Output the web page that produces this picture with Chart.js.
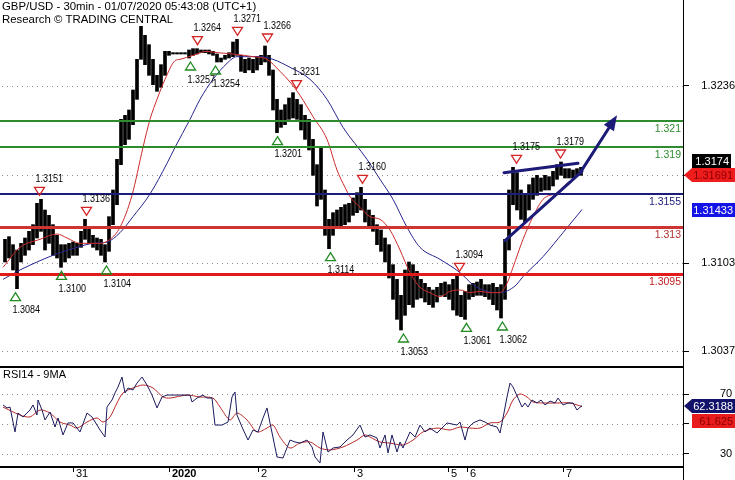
<!DOCTYPE html>
<html><head><meta charset="utf-8">
<script src="https://cdn.jsdelivr.net/npm/chart.js@4.4.0/dist/chart.umd.min.js"></script>
<style>
html,body{margin:0;padding:0;background:#fff;overflow:hidden;}
#wrap{position:relative;width:735px;height:480px;background:#fff;}
#c1{position:absolute;left:0;top:0;}
#c2{position:absolute;left:0;top:366px;}
</style></head><body>
<div id="wrap"><canvas id="c1" width="735" height="366"></canvas><canvas id="c2" width="735" height="114"></canvas></div>
<script>
// ---------------- DATA ----------------
// hourly price bars (index = bar number), high / low
const barHigh = [
1.3121,1.3123,1.3117,1.3113,1.3118,1.3122,1.3127,1.3132,1.3148,1.3151,
1.3143,1.3139,1.3132,1.3124,1.3117,1.3117,1.3118,1.3119,1.3118,1.3127,
1.3136,1.3130,1.3124,1.3122,1.3121,1.3117,1.3138,1.3158,1.3181,1.3211,
1.3214,1.3218,1.3233,1.3256,1.3289,1.3274,1.3267,1.3256,1.3244,1.3252,
1.3262,1.3262,1.3261,1.3261,1.3261,1.3261,1.3263,1.3264,1.3264,1.3263,
1.3263,1.3263,1.3262,1.3260,1.3257,1.3259,1.3261,1.3269,1.3271,1.3259,
1.3256,1.3257,1.3256,1.3258,1.3259,1.3266,1.3259,1.3248,1.3226,1.3218,
1.3222,1.3227,1.3231,1.3226,1.3222,1.3214,1.3211,1.3196,1.3177,1.3190,
1.3158,1.3136,1.3141,1.3143,1.3145,1.3147,1.3148,1.3152,1.3156,1.3160,
1.3151,1.3143,1.3139,1.3132,1.3128,1.3122,1.3117,1.3102,1.3091,1.3079,
1.3098,1.3104,1.3102,1.3097,1.3091,1.3088,1.3085,1.3083,1.3085,1.3088,
1.3089,1.3087,1.3091,1.3094,1.3079,1.3082,1.3087,1.3088,1.3089,1.3091,
1.3087,1.3087,1.3088,1.3085,1.3087,1.3121,1.3158,1.3175,1.3171,1.3158,
1.3154,1.3162,1.3167,1.3169,1.3167,1.3169,1.3168,1.3172,1.3177,1.3179,
1.3174,1.3174,1.3173,1.3174,1.3175];
const barLow = [
1.3104,1.3107,1.3098,1.3084,1.3104,1.3109,1.3113,1.3117,1.3122,1.3127,
1.3113,1.3118,1.3109,1.3107,1.3100,1.3104,1.3107,1.3109,1.3109,1.3115,
1.3121,1.3118,1.3115,1.3113,1.3109,1.3104,1.3112,1.3132,1.3147,1.3177,
1.3192,1.3196,1.3207,1.3226,1.3256,1.3252,1.3244,1.3237,1.3232,1.3235,
1.3244,1.3259,1.3260,1.3260,1.3260,1.3260,1.3257,1.3259,1.3260,1.3261,
1.3261,1.3260,1.3259,1.3254,1.3254,1.3256,1.3257,1.3258,1.3259,1.3247,
1.3246,1.3248,1.3246,1.3248,1.3252,1.3254,1.3244,1.3218,1.3201,1.3205,
1.3207,1.3211,1.3212,1.3211,1.3203,1.3196,1.3188,1.3169,1.3146,1.3151,
1.3124,1.3114,1.3124,1.3130,1.3130,1.3132,1.3134,1.3139,1.3141,1.3143,
1.3134,1.3130,1.3127,1.3117,1.3112,1.3104,1.3092,1.3076,1.3061,1.3053,
1.3064,1.3072,1.3070,1.3076,1.3077,1.3074,1.3072,1.3070,1.3074,1.3079,
1.3078,1.3076,1.3068,1.3064,1.3063,1.3061,1.3076,1.3078,1.3079,1.3079,
1.3078,1.3076,1.3072,1.3068,1.3062,1.3076,1.3113,1.3147,1.3143,1.3136,
1.3134,1.3143,1.3151,1.3154,1.3157,1.3158,1.3158,1.3161,1.3166,1.3169,
1.3167,1.3167,1.3167,1.3169,1.3169];
const lastPrice = 1.3174;

// moving averages (bar index, price)
const redMAIdx = [-0.5,3.75,8.75,13,15.5,18.75,23.75,26.25,28.75,31.75,
 34.5,36.25,38,40,42.5,43.75,47,50.5,53,57,
 62,65.5,68.75,71.25,73.75,77,80.5,83,85,86.25,
 88.75,91.25,93.75,96.25,98.75,101.25,103.75,106.25,108.75,111.25,
 113.75,116.25,118.75,121.25,123.75,125.5,127,129.5,132,134.5,
 138,140.5,143.5];
const redMAVal = [1.3100,1.3115,1.3121,1.3125,1.3122,1.3118,1.3118,1.3121,1.3130,1.3154,
 1.3190,1.3211,1.3226,1.3241,1.3255,1.3256,1.3259,1.3262,1.3261,1.3260,
 1.3258,1.3256,1.3247,1.3239,1.3229,1.3213,1.3196,1.3173,1.3160,1.3153,
 1.3145,1.3138,1.3136,1.3128,1.3113,1.3096,1.3085,1.3081,1.3078,1.3082,
 1.3083,1.3081,1.3082,1.3081,1.3081,1.3088,1.3100,1.3121,1.3138,1.3151,
 1.3156,1.3163,1.31691];
const blueMAIdx = [-0.5,3.75,8.75,13.75,18,22,25.5,28.75,32,36.25,
 40.5,42.5,46.25,48.75,52,55.5,58,63.75,67,71.25,
 76.25,80.5,84.5,90.5,93.75,97,100.5,103.75,108.75,113.75,
 117,120.5,123.75,127.5,129.5,134.5,139.5,144.25];
const blueMAVal = [1.3091,1.3098,1.3105,1.3111,1.3115,1.3118,1.3119,1.3126,1.3138,1.3155,
 1.3178,1.3190,1.3211,1.3226,1.3241,1.3253,1.3258,1.3258,1.3256,1.3250,
 1.3241,1.3226,1.3205,1.3181,1.3166,1.3151,1.3130,1.3115,1.3106,1.3096,
 1.3087,1.3082,1.3081,1.3086,1.3093,1.3108,1.3126,1.31433];

// support / resistance levels
const levels = [1.321, 1.319, 1.3155, 1.313, 1.3095];
const levelLabels = ['1.321','1.319','1.3155','1.313','1.3095'];

// swing highs / lows
const peakIdx = [8.5,20.25,34.5,48,58,65.5,72.75,89.25,113.5,127.75,138.75];
const peakVal = [1.3151,1.3136,1.3289,1.3264,1.3271,1.3266,1.3231,1.3160,1.3094,1.3175,1.3179];
const troughIdx = [2.5,14,25.25,46.25,52.5,68,81.25,99.5,115.25,124.25];
const troughVal = [1.3084,1.3100,1.3104,1.3257,1.3254,1.3201,1.3114,1.3053,1.3061,1.3062];

// trend lines and projection arrow
const upperTrendIdx = [124.75,143.25], upperTrendVal = [1.3171,1.3178];
const lowerTrendIdx = [125,144.25], lowerTrendVal = [1.3120,1.3172];
const arrowIdx = [144,153], arrowVal = [1.3172,1.3214];

// RSI(14) and its 9-period MA
const rsiIdx = [-0.5,0.5,1.25,2.5,3.25,4.5,6.25,7,8,8.25,
 9.25,10,11.25,12.5,13.25,14.5,15.75,17,18.75,20.5,
 21.75,23,23.75,25,25.5,26.75,27.5,28.25,29.25,30,
 30.75,32,33,34.25,35.5,36.75,38,39.25,40.5,46.25,
 46.75,48,49.5,50.5,51.75,52.5,54.25,55.75,56.75,57.5,
 58,59.25,60.75,62,63.25,64.5,65.5,66.25,68,69.5,
 71.25,72.5,73.75,75.5,76.75,77.5,78.75,79.5,80.75,82,
 83.75,85.5,87,88.75,90,91.25,93,93.75,95,95.75,
 96.75,98,98.75,99.5,101.25,102.5,103.75,105,106.25,108,
 110.5,113,113.75,115,115.75,117,118.75,120,121.25,123,
 123.75,124.5,125.5,126.25,127,128.25,129.25,130,130.75,131.75,
 133,134,135,136.25,137.5,138.25,139.5,140.75,142,143,
 144.25];
const rsiVal = [62.7,60.7,61.3,44.7,57.3,54.7,59.3,62.7,56,66,
 59.3,52.7,58,48,54,42.7,50.7,50.7,44.7,57.3,
 54.7,49.3,46,41.3,61.3,66,70.7,74.7,81.3,70.7,
 74,72.7,77.3,81.3,76,69.3,60.7,68,69.3,69.3,
 64.7,67.3,69.3,67.3,67.3,49.3,49.3,51.3,68,71.3,
 56,48,39.3,46,44.7,54,60.7,50.7,28,27.3,
 39.3,38,37.3,39.3,34.7,28,24,44.7,31.3,34,
 34.7,39.3,42.7,49.3,41.3,42.7,40.7,34,42.7,30.7,
 42.7,31.3,38,34,44.7,41.3,49.3,44.7,47.3,44,
 50.7,49.3,51.3,39.3,47.3,50.7,52.7,51.3,49.3,48,
 44,54,68,77.3,74.7,67.3,61.3,64,61.3,66,
 64,66,62.7,65.3,64,67.3,62.7,64,64,59.3,
 62.3188];
const rsiMAIdx = [-0.5,3.75,6.25,8.75,11.25,13.75,16.25,18,20.5,23,
 24.5,26.25,28,29.5,32,34.5,37,39.5,41.25,45.5,
 48.75,52,53.75,56.25,58,60.5,63,65.5,67,68.75,
 71.25,73.75,76.25,78.75,81.25,84.5,88,90,91.25,93.75,
 96.25,99.5,102,104.5,108,111.25,113.75,116.25,118.75,121.25,
 123.75,125.5,127,128.75,130.5,132,134.5,138,141.25,144.25];
const rsiMAVal = [61.3,56,54.7,59.3,57.3,51.3,49.3,47.3,51.3,54,
 51.3,54.7,64,70.7,74,76,74,68,67.3,69.3,
 68,67.3,61.3,52.7,57.3,52.7,44.7,47.3,49.3,41.3,
 34,37.3,38,34,32.7,34.7,39.3,42.7,41.3,38,
 37.3,36,39.3,44.7,47.3,46,48,47.3,47.3,50.7,
 51.3,57.3,66,70,68,64.7,64,64,64,61.625];

// axes
const priceTicks = [1.3037,1.3103,1.3169,1.3236];
const rsiTicks = [30,50,70];
const dayIdx = [17,41,63.25,87.25,110.75,115.5,139.5];
const dayLabels = ['31','2020','2','3','5','6','7'];
const titleLines = ['GBP/USD - 30min - 01/07/2020 05:43:08 (UTC+1)','Research \u00A9 TRADING CENTRAL'];

// ---------------- STYLE ----------------
const FONT = "'Liberation Sans', Arial, sans-serif";
const X_MIN = -1.25, X_MAX = 169.5;
const levelStyle = [
  {c:'#2e8b2e', w:2, t:'#2e8b2e'},
  {c:'#2e8b2e', w:2, t:'#2e8b2e'},
  {c:'#1c1c7c', w:2, t:'#1c1c7c'},
  {c:'#cf3434', w:3, t:'#b03030'},
  {c:'#e21a1a', w:3, t:'#c02020'}
];
const NAVY = '#1c1c78';
const GRID = '#8e8e8e';
Chart.defaults.font.family = FONT;
Chart.defaults.font.size = 11;
Chart.defaults.color = '#000';

function pts(xs, ys){ return xs.map((x,k)=>({x:x, y:ys[k]})); }
function fitRight(s){ s.width = 52; s.paddingTop = 0; s.paddingBottom = 0; s.paddingLeft = 0; s.paddingRight = 0; }

// condensed small label
function smallText(ctx, text, x, y){
  ctx.save();
  ctx.translate(x, y); ctx.scale(0.9, 1);
  ctx.font = '10px ' + FONT; ctx.textAlign = 'left'; ctx.textBaseline = 'middle';
  ctx.fillStyle = '#000';
  ctx.fillText(text, 0, 0);
  ctx.restore();
}

function valueBox(ctx, yc, text, bg, fg, arrow, x0, x1){
  const h = 14, top = Math.round(yc - h/2);
  ctx.fillStyle = bg;
  ctx.beginPath();
  if (arrow){
    ctx.moveTo(x0, top + h/2); ctx.lineTo(x0 + 8, top); ctx.lineTo(x1, top);
    ctx.lineTo(x1, top + h); ctx.lineTo(x0 + 8, top + h); ctx.closePath();
  } else ctx.rect(x0, top, x1 - x0, h);
  ctx.fill();
  ctx.fillStyle = fg; ctx.font = '11px ' + FONT;
  ctx.textAlign = 'right'; ctx.textBaseline = 'middle';
  ctx.fillText(text, x1 - 2, top + h/2 + 0.5);
}

const mainDecor = {
  id: 'mainDecor',
  beforeDatasetsDraw(chart){
    const {ctx, chartArea:a, scales:{y}} = chart;
    ctx.save();
    ctx.fillStyle = GRID;
    priceTicks.forEach(v=>{
      const py = Math.round(y.getPixelForValue(v));
      for (let px = a.left + 2; px < a.right; px += 5) ctx.fillRect(px, py, 1, 1);
    });
    ctx.restore();
  },
  afterDatasetsDraw(chart){
    const {ctx, chartArea:a, scales:{x, y}} = chart;
    ctx.save();
    // levels
    levels.forEach((v,k)=>{
      const s = levelStyle[k];
      let py = Math.round(y.getPixelForValue(v));
      if (s.w % 2) py += 0.5;
      ctx.strokeStyle = s.c; ctx.lineWidth = s.w;
      ctx.beginPath(); ctx.moveTo(a.left, py); ctx.lineTo(a.right, py); ctx.stroke();
      ctx.fillStyle = s.t; ctx.font = '10.5px ' + FONT;
      ctx.textAlign = 'right'; ctx.textBaseline = 'middle';
      ctx.fillText(levelLabels[k], a.right - 2, py + 8);
    });
    // trend lines
    ctx.strokeStyle = NAVY; ctx.lineWidth = 3; ctx.lineCap = 'round';
    [[upperTrendIdx, upperTrendVal],[lowerTrendIdx, lowerTrendVal]].forEach(([xs, ys])=>{
      ctx.beginPath();
      ctx.moveTo(x.getPixelForValue(xs[0]), y.getPixelForValue(ys[0]));
      ctx.lineTo(x.getPixelForValue(xs[1]), y.getPixelForValue(ys[1]));
      ctx.stroke();
    });
    // arrow
    const ax0 = x.getPixelForValue(arrowIdx[0]), ay0 = y.getPixelForValue(arrowVal[0]);
    const ax1 = x.getPixelForValue(arrowIdx[1]), ay1 = y.getPixelForValue(arrowVal[1]);
    const ang = Math.atan2(ay1 - ay0, ax1 - ax0);
    const hl = 15, hw = 6;
    const bx = ax1 - hl*Math.cos(ang), by = ay1 - hl*Math.sin(ang);
    ctx.beginPath(); ctx.moveTo(ax0, ay0); ctx.lineTo(bx, by); ctx.stroke();
    ctx.fillStyle = NAVY;
    ctx.beginPath(); ctx.moveTo(ax1, ay1);
    ctx.lineTo(bx + hw*Math.sin(ang), by - hw*Math.cos(ang));
    ctx.lineTo(bx - hw*Math.sin(ang), by + hw*Math.cos(ang));
    ctx.closePath(); ctx.fill();
    // swing markers
    ctx.lineWidth = 1.3; ctx.lineCap = 'butt';
    peakIdx.forEach((d,k)=>{
      const px = Math.round(x.getPixelForValue(d)) + 0.5;
      const cy = y.getPixelForValue(peakVal[k]) - 8;
      ctx.strokeStyle = '#d42424';
      ctx.beginPath(); ctx.moveTo(px - 5, cy - 4); ctx.lineTo(px + 5, cy - 4); ctx.lineTo(px, cy + 4); ctx.closePath(); ctx.stroke();
      smallText(ctx, peakVal[k].toFixed(4), px - 4, cy - 12);
    });
    troughIdx.forEach((d,k)=>{
      const px = Math.round(x.getPixelForValue(d)) + 0.5;
      const cy = y.getPixelForValue(troughVal[k]) + 8;
      ctx.strokeStyle = '#228b22';
      ctx.beginPath(); ctx.moveTo(px, cy - 4); ctx.lineTo(px + 5, cy + 4); ctx.lineTo(px - 5, cy + 4); ctx.closePath(); ctx.stroke();
      smallText(ctx, troughVal[k].toFixed(4), px - 3, cy + 14);
    });
    // title
    ctx.font = '11.4px ' + FONT; ctx.textBaseline = 'middle'; ctx.textAlign = 'left';
    titleLines.forEach((t,k)=>{
      const w = ctx.measureText(t).width;
      ctx.fillStyle = '#fff'; ctx.fillRect(0, k*13, w + 4, 13);
      ctx.fillStyle = '#000'; ctx.fillText(t, 2, 6.5 + k*13);
    });
    ctx.restore();
  },
  afterDraw(chart){
    const {ctx, scales:{y}} = chart;
    ctx.save();
    const yRed = y.getPixelForValue(redMAVal[redMAVal.length-1]);
    valueBox(ctx, yRed - 14, lastPrice.toFixed(4), '#000', '#fff', false, 692, 731);
    valueBox(ctx, yRed, redMAVal[redMAVal.length-1].toFixed(5), '#ee1c1c', '#8a0000', true, 684, 735);
    valueBox(ctx, y.getPixelForValue(blueMAVal[blueMAVal.length-1]), blueMAVal[blueMAVal.length-1].toFixed(5), '#1414e6', '#fff', false, 692, 735);
    ctx.restore();
  }
};

new Chart(document.getElementById('c1'), {
  type: 'bar',
  data: { datasets: [
    {type:'bar', data: barHigh.map((h,i)=>({x:i, y:[barLow[i], h]})), backgroundColor:'#000', borderWidth:0, barThickness:3, minBarLength:1, grouped:false, order:3},
    {type:'line', data: pts(blueMAIdx, blueMAVal), borderColor:'#25258f', borderWidth:1, pointRadius:0, cubicInterpolationMode:'monotone', order:2},
    {type:'line', data: pts(redMAIdx, redMAVal), borderColor:'#cc2a2a', borderWidth:1, pointRadius:0, cubicInterpolationMode:'monotone', order:1}
  ]},
  options: {
    responsive:false, animation:false, devicePixelRatio:1,
    layout:{padding:0},
    plugins:{legend:{display:false}, tooltip:{enabled:false}},
    scales:{
      x:{type:'linear', min:X_MIN, max:X_MAX, display:false, offset:false},
      y:{type:'linear', position:'right', min:1.3026, max:1.33005,
        afterFit: fitRight,
        afterBuildTicks:(s)=>{ s.ticks = priceTicks.map(v=>({value:v})); },
        ticks:{callback:(v)=>Number(v).toFixed(4), color:'#000', padding:8, crossAlign:'far', font:{size:11}},
        grid:{drawOnChartArea:false, drawTicks:true, tickLength:6, tickColor:'#000', tickWidth:1},
        border:{display:true, color:'#000', width:1}
      }
    }
  },
  plugins:[mainDecor]
});

const rsiDecor = {
  id:'rsiDecor',
  beforeDatasetsDraw(chart){
    const {ctx, chartArea:a, scales:{y}} = chart;
    ctx.save();
    ctx.fillStyle = GRID;
    rsiTicks.forEach(v=>{
      const py = Math.round(y.getPixelForValue(v));
      for (let px = a.left + 2; px < a.right; px += 5) ctx.fillRect(px, py, 1, 1);
    });
    ctx.restore();
  },
  afterDraw(chart){
    const {ctx, chartArea:a, scales:{x, y}} = chart;
    ctx.save();
    ctx.fillStyle = '#000';
    ctx.fillRect(0, a.top, a.right, 2);
    ctx.fillRect(0, a.bottom - 1, a.right, 2);
    ctx.fillRect(a.right, a.top, 1, chart.height - a.top);
    ctx.font = '11px ' + FONT; ctx.textAlign = 'left'; ctx.textBaseline = 'middle';
    ctx.fillText('RSI14 - 9MA', 3, a.top + 9);
    ctx.textBaseline = 'top';
    dayIdx.forEach((d,k)=>{
      const px = Math.round(x.getPixelForValue(d));
      ctx.fillRect(px, a.bottom, 1, 5);
      ctx.font = (dayLabels[k].length === 4 ? 'bold ' : '') + '11px ' + FONT;
      ctx.fillText(dayLabels[k], px + 3, a.bottom + 1);
    });
    const yR = y.getPixelForValue(rsiVal[rsiVal.length-1]);
    valueBox(ctx, yR, rsiVal[rsiVal.length-1].toFixed(4), '#12126a', '#fff', true, 684, 735);
    valueBox(ctx, yR + 15, String(rsiMAVal[rsiMAVal.length-1]), '#e81c1c', '#8a0000', false, 692, 735);
    ctx.restore();
  }
};

new Chart(document.getElementById('c2'), {
  type:'line',
  data:{ datasets:[
    {data: pts(rsiMAIdx, rsiMAVal), borderColor:'#b82828', borderWidth:1, pointRadius:0, tension:0.3, order:2},
    {data: pts(rsiIdx, rsiVal), borderColor:'#1a1a5e', borderWidth:1, pointRadius:0, tension:0, order:1}
  ]},
  options:{
    responsive:false, animation:false, devicePixelRatio:1,
    layout:{padding:{top:0, bottom:13, left:0, right:0}},
    plugins:{legend:{display:false}, tooltip:{enabled:false}},
    scales:{
      x:{type:'linear', min:X_MIN, max:X_MAX, display:false},
      y:{type:'linear', position:'right', min:21.33, max:88.67,
        afterFit: fitRight,
        afterBuildTicks:(s)=>{ s.ticks = rsiTicks.map(v=>({value:v})); },
        ticks:{callback:(v)=>String(v), color:'#000', padding:31, crossAlign:'near', font:{size:11}},
        grid:{drawOnChartArea:false, drawTicks:true, tickLength:6, tickColor:'#000', tickWidth:1},
        border:{display:true, color:'#000', width:1}
      }
    }
  },
  plugins:[rsiDecor]
});
</script>
</body></html>
